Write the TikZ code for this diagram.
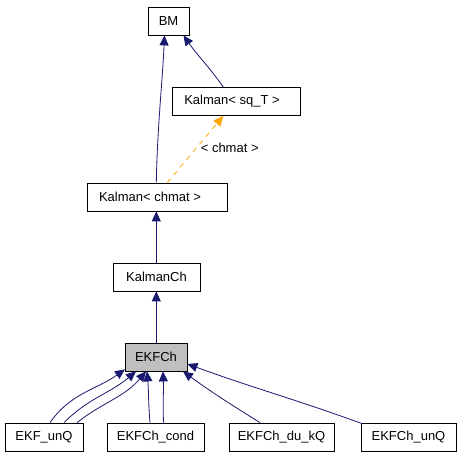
\documentclass[tikz,border=0pt]{standalone}
\usepackage{fontspec}
\setmainfont{Liberation Sans}
\usetikzlibrary{arrows.meta}
\definecolor{edgeblue}{RGB}{25,25,112}
\definecolor{tmplorange}{RGB}{255,165,0}
\definecolor{curgray}{RGB}{191,191,191}
\begin{document}
\begin{tikzpicture}[x=1pt,y=1pt,
  cls/.style={draw=black, line width=0.8pt, fill=white, minimum height=28pt, inner sep=0pt,
    font=\fontsize{13}{15}\selectfont},
  inh/.style={draw=edgeblue, line width=0.8pt, -{Triangle[length=10pt,width=9pt]}, color=edgeblue},
  tmpl/.style={draw=tmplorange, line width=0.8pt, dash pattern=on 5pt off 5pt,
    -{Triangle[length=10pt,width=9pt]}, color=tmplorange},
  lbl/.style={font=\fontsize{13}{15}\selectfont, inner sep=0pt, text=black}]
\useasboundingbox (0,0) rectangle (459,456);
\fill[white] (0,0) rectangle (459,456);
% nodes
\node[cls, minimum width=41pt] (bm) at (168.5,435) {BM};
\node[cls, minimum width=128pt] (ksq) at (236,354.5) {Kalman< sq\_T >\hspace*{8pt}};
\node[cls, minimum width=140pt] (kch) at (157,259) {Kalman< chmat >\hspace*{14pt}};
\node[cls, minimum width=87pt] (kalmanch) at (156.5,179) {KalmanCh};
\node[cls, minimum width=62pt, fill=curgray] (ekfch) at (156,99) {EKFCh};
\node[cls, minimum width=78pt] (ekfunq) at (44,19) {EKF\_unQ};
\node[cls, minimum width=97pt] (cond) at (155.5,19) {EKFCh\_cond};
\node[cls, minimum width=105pt] (dukq) at (281.5,19) {EKFCh\_du\_kQ};
\node[cls, minimum width=95pt] (chunq) at (408.5,19) {EKFCh\_unQ};
% upper edges
\draw[inh] ([xshift=-0.7pt]kch.north) .. controls +(1,55) and +(-2,-45) .. ([xshift=-4pt]bm.south);
\draw[inh] ([xshift=-12.7pt]ksq.north) to[out=125,in=-55] ([xshift=15pt]bm.south);
\draw[tmpl] ([xshift=10.3pt]kch.north) -- node[lbl, right, pos=0.52, xshift=4pt] {< chmat >} ([xshift=-12.7pt]ksq.south);
\draw[inh] ([xshift=-0.2pt]kalmanch.north) -- ([xshift=-0.7pt]kch.south);
\draw[inh] ([xshift=0.3pt]ekfch.north) -- ([xshift=-0.2pt]kalmanch.south);
% bottom edges
\draw[inh] ([xshift=6pt]ekfunq.north) to[out=55,in=-145] ([xshift=-31pt,yshift=2pt]ekfch.south);
\draw[inh] ([xshift=20pt]ekfunq.north) to[out=45,in=-140] ([xshift=-20pt]ekfch.south);
\draw[inh] ([xshift=33pt]ekfunq.north) to[out=38,in=-130] ([xshift=-10pt]ekfch.south);
\draw[inh] ([xshift=-5.5pt]cond.north) to[out=95,in=-85] ([xshift=-9pt]ekfch.south);
\draw[inh] ([xshift=8pt]cond.north) to[out=92,in=-88] ([xshift=7pt]ekfch.south);
\draw[inh] ([xshift=-21.5pt]dukq.north) to[out=148,in=-36] ([xshift=27pt]ekfch.south);
\draw[inh] ([xshift=-46.5pt,yshift=-1pt]chunq.north) to[out=160,in=-20] ([yshift=-7pt]ekfch.east);
\end{tikzpicture}
\end{document}
